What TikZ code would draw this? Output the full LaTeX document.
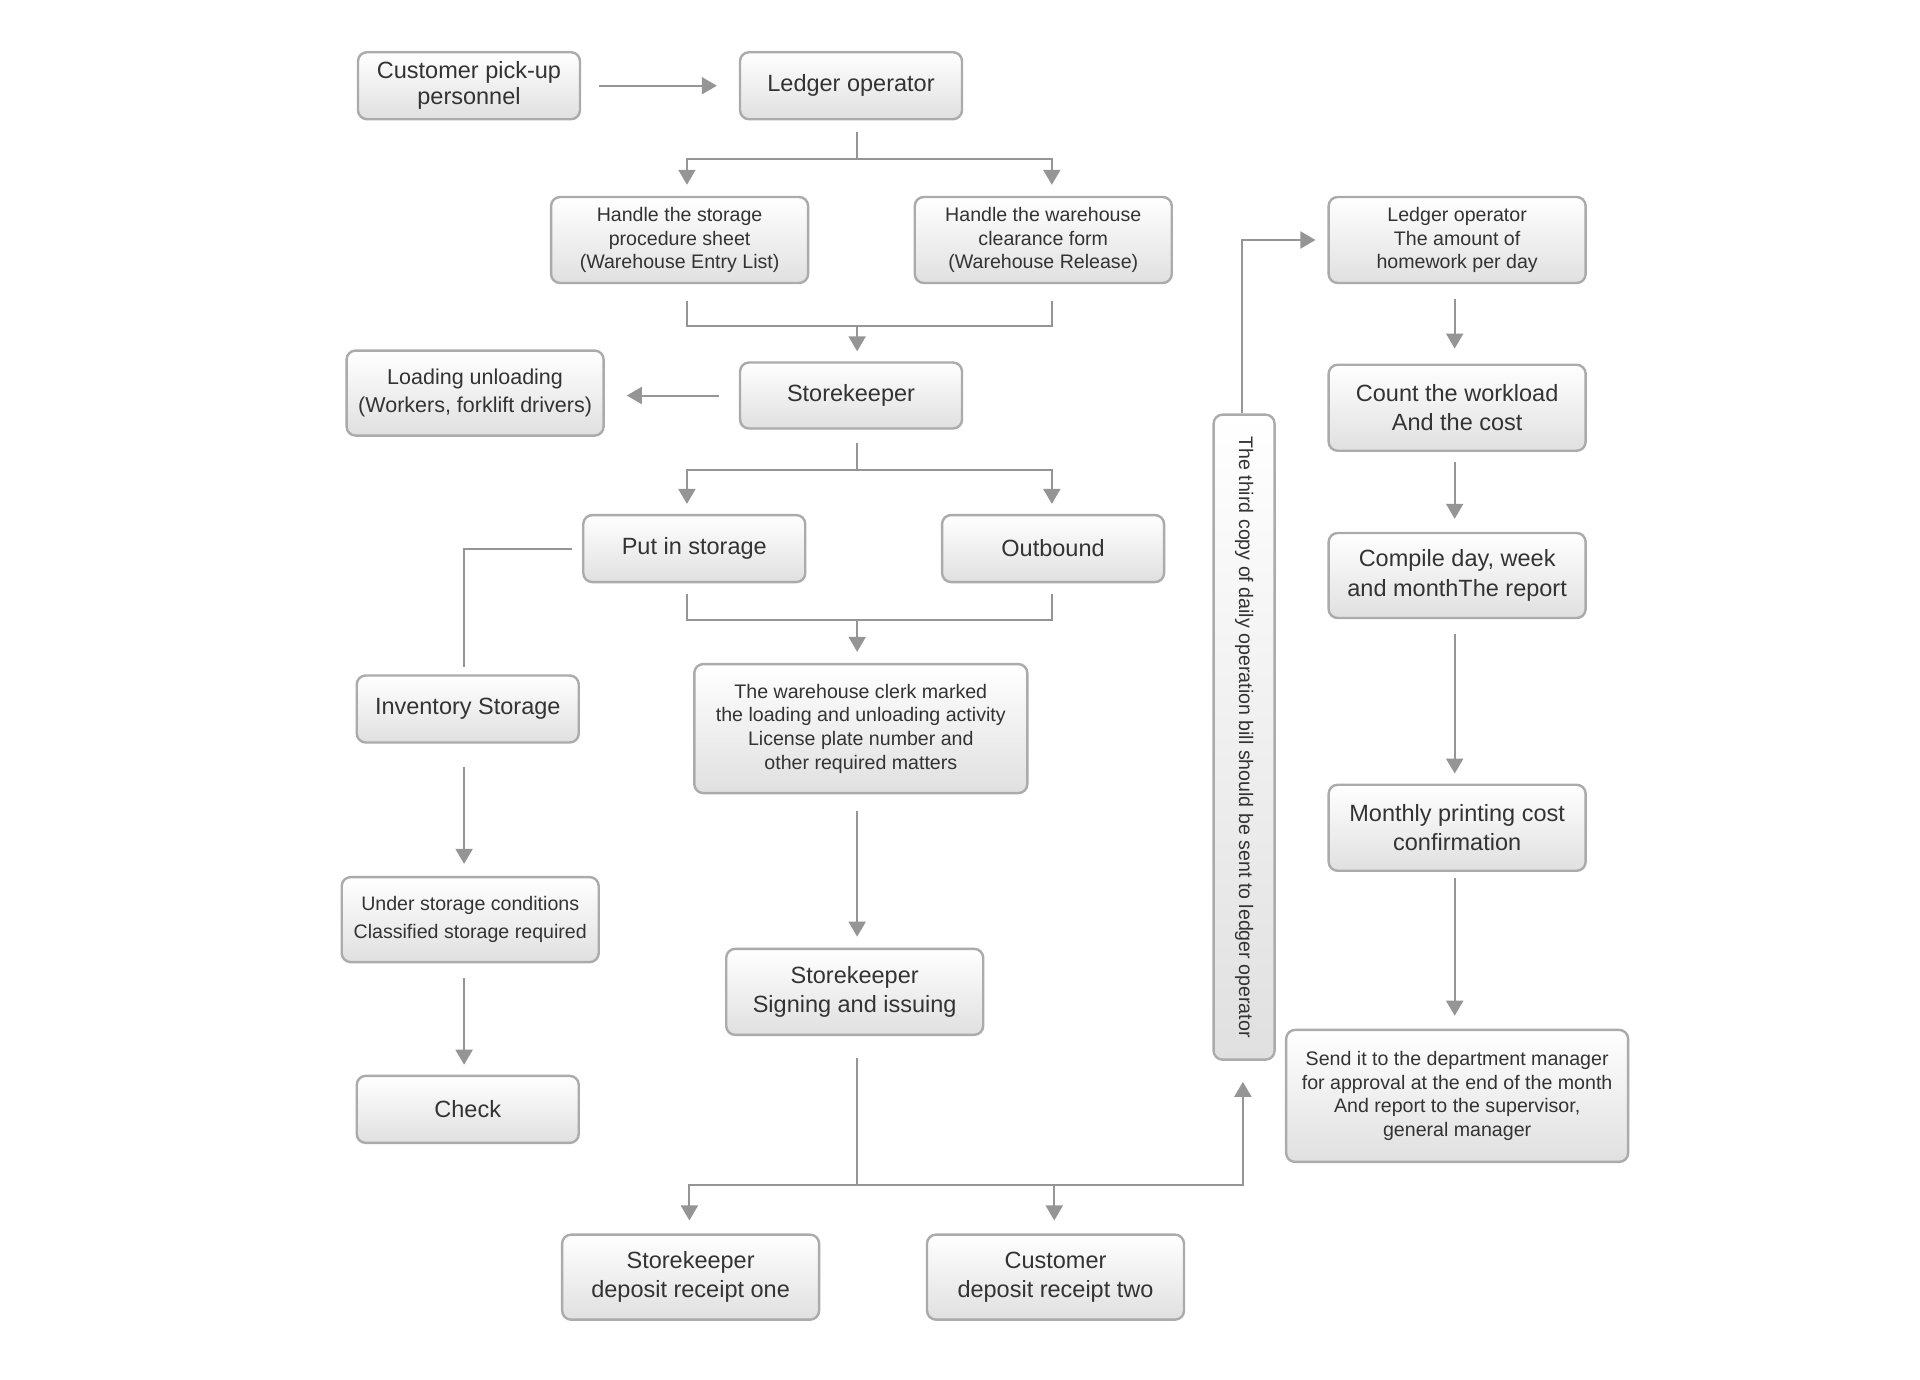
\documentclass[tikz,border=0pt]{standalone}
\usepackage{fontspec}
\setmainfont{Liberation Sans}
\usetikzlibrary{arrows.meta}
\definecolor{bordergray}{HTML}{ABABAB}
\definecolor{linegray}{HTML}{959595}
\definecolor{fillgray}{HTML}{E0E0E0}
\definecolor{txtgray}{HTML}{333333}
\tikzset{
  box/.style={rounded corners=9pt, draw=bordergray, line width=2.4pt, top color=white, bottom color=fillgray, text=txtgray, align=center, inner sep=0pt},
  big/.style={font=\fontsize{23.5}{29.5}\selectfont},
  med/.style={font=\fontsize{21.5}{28}\selectfont},
  small/.style={font=\fontsize{19.6}{23.6}\selectfont},
  conn/.style={draw=linegray, line width=2pt},
  arr/.style={conn, -{Triangle[length=15pt,width=17pt]}},
}
\begin{document}
\begin{tikzpicture}[x=1.2245pt, y=-1.2245pt]
\fill[white] (0,0) rectangle (1568,1127);
\useasboundingbox (0,0) rectangle (1568,1127);

% nodes
\node[box, big, font=\fontsize{23.5}{26}\selectfont, minimum width=222pt, minimum height=67pt] (cust) at (383,70) {Customer pick-up\\personnel};
\node[box, big, minimum width=222pt, minimum height=67pt] (ledger) at (695,70) {Ledger operator};
\node[box, small, minimum width=257pt, minimum height=86pt] (hs) at (555,196) {Handle the storage\\procedure sheet\\(Warehouse Entry List)};
\node[box, small, minimum width=257pt, minimum height=86pt] (hc) at (852,196) {Handle the warehouse\\clearance form\\(Warehouse Release)};
\node[box, big, minimum width=222pt, minimum height=66pt] (sk) at (695,323) {Storekeeper};
\node[box, med, minimum width=257pt, minimum height=85pt] (load) at (388,321) {Loading unloading\\(Workers, forklift drivers)};
\node[box, big, minimum width=222pt, minimum height=67pt] (put) at (567,448) {Put in storage};
\node[box, big, minimum width=222pt, minimum height=67pt] (out) at (860,448) {Outbound};
\node[box, big, minimum width=222pt, minimum height=67pt] (inv) at (382,579) {Inventory Storage};
\node[box, small, minimum width=333pt, minimum height=129pt] (clerk) at (703,595) {The warehouse clerk marked\\the loading and unloading activity\\License plate number and\\other required matters};
\node[box, big, minimum width=257pt, minimum height=86pt] (sign) at (698,810) {Storekeeper\\Signing and issuing};
\node[box, small, font=\fontsize{19.6}{28}\selectfont, minimum width=257pt, minimum height=85pt] (cond) at (384,751) {Under storage conditions\\Classified storage required};
\node[box, big, minimum width=222pt, minimum height=67pt] (check) at (382,906) {Check};
\node[box, big, minimum width=257pt, minimum height=85pt] (r1) at (564,1043) {Storekeeper\\deposit receipt one};
\node[box, big, minimum width=257pt, minimum height=85pt] (r2) at (862,1043) {Customer\\deposit receipt two};
\node[box, small, rotate=-90, minimum width=645pt, minimum height=61pt] (vert) at (1016,602) {The third copy of daily operation bill should be sent to ledger operator};
\node[box, small, minimum width=257pt, minimum height=86pt] (lo2) at (1190,196) {Ledger operator\\The amount of\\homework per day};
\node[box, big, minimum width=257pt, minimum height=86pt] (count) at (1190,333) {Count the workload\\And the cost};
\node[box, big, minimum width=257pt, minimum height=85pt] (comp) at (1190,470) {Compile day, week\\and monthThe report};
\node[box, big, minimum width=257pt, minimum height=86pt] (month) at (1190,676) {Monthly printing cost\\confirmation};
\node[box, small, minimum width=342pt, minimum height=132pt] (send) at (1190,895) {Send it to the department manager\\for approval at the end of the month\\And report to the supervisor,\\general manager};

% junction coordinates
\coordinate (j1) at (700,130);
\coordinate (j2) at (700,266);
\coordinate (j3) at (700,384);
\coordinate (j4) at (700,506);
\coordinate (j5) at (700,968);

% connectors
\draw[arr, shorten <=18pt, shorten >=22pt] (cust.east) -- (ledger.west);

\draw[conn, shorten <=12pt] (700,0 |- ledger.south) -- (j1);
\draw[arr, shorten >=11pt] (j1) -| (561,0 |- hs.north);
\draw[arr, shorten >=11pt] (j1) -| (859,0 |- hc.north);

\draw[conn, shorten <=17pt] (561,0 |- hs.south) |- (j2);
\draw[conn, shorten <=17pt] (859,0 |- hc.south) |- (j2);
\draw[arr, shorten >=10pt] (j2) -- (700,0 |- sk.north);

\draw[arr, shorten <=20pt, shorten >=22pt] (sk.west) -- (sk.west -| load.east);

\draw[conn, shorten <=13pt] (700,0 |- sk.south) -- (j3);
\draw[arr, shorten >=10pt] (j3) -| (561,0 |- put.north);
\draw[arr, shorten >=10pt] (j3) -| (859,0 |- out.north);

\draw[conn, shorten <=10pt, shorten >=7pt] (put.west) -| (379,0 |- inv.north);

\draw[conn, shorten <=11pt] (561,0 |- put.south) |- (j4);
\draw[conn, shorten <=11pt] (859,0 |- out.south) |- (j4);
\draw[arr, shorten >=11pt] (j4) -- (700,0 |- clerk.north);

\draw[arr, shorten <=17pt, shorten >=11pt] (700,0 |- clerk.south) -- (700,0 |- sign.north);

\draw[arr, shorten <=23pt, shorten >=12pt] (379,0 |- inv.south) -- (379,0 |- cond.north);
\draw[arr, shorten <=15pt, shorten >=10pt] (379,0 |- cond.south) -- (379,0 |- check.north);

\draw[conn, shorten <=22pt] (700,0 |- sign.south) -- (j5);
\draw[arr, shorten >=13pt] (j5) -| (563,0 |- r1.north);
\draw[arr, shorten >=13pt] (j5) -| (861,0 |- r2.north);
\draw[arr, shorten >=21pt] (j5) -| (1015,0 |- vert.east);

\draw[arr, shorten >=12pt] (1014,0 |- vert.west) |- (lo2.west);

\draw[arr, shorten <=15pt, shorten >=15pt] (1188,0 |- lo2.south) -- (1188,0 |- count.north);
\draw[arr, shorten <=10pt, shorten >=13pt] (1188,0 |- count.south) -- (1188,0 |- comp.north);
\draw[arr, shorten <=15pt, shorten >=10pt] (1188,0 |- comp.south) -- (1188,0 |- month.north);
\draw[arr, shorten <=6pt, shorten >=13pt] (1188,0 |- month.south) -- (1188,0 |- send.north);
\end{tikzpicture}
\end{document}
